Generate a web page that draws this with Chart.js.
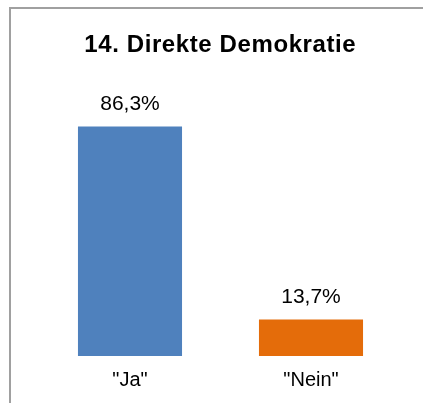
<!DOCTYPE html>
<html>
<head>
<meta charset="utf-8">
<script src="https://cdn.jsdelivr.net/npm/chart.js@4/dist/chart.umd.min.js"></script>
<style>
html,body{margin:0;padding:0;background:#fff;overflow:hidden;}
canvas{display:block;}
</style>
</head>
<body>
<canvas id="c" width="423" height="403"></canvas>
<script>
const titleText = "14. Direkte Demokratie";
const categories = ['"Ja"', '"Nein"'];
const values = [86.3, 13.7];
const barColors = ['#4F81BD', '#E46C0A'];

const FONT = '"Liberation Sans", Arial, sans-serif';

const framePlugin = {
  id: 'frame',
  beforeDraw(chart) {
    const ctx = chart.ctx;
    ctx.save();
    ctx.fillStyle = '#ffffff';
    ctx.fillRect(0, 0, chart.width, chart.height);
    ctx.strokeStyle = '#a0a0a0';
    ctx.lineWidth = 2;
    ctx.beginPath();
    ctx.moveTo(10, chart.height + 2);
    ctx.lineTo(10, 8);
    ctx.lineTo(chart.width + 2, 8);
    ctx.stroke();
    // title
    ctx.fillStyle = '#000';
    ctx.font = 'bold 24px ' + FONT;
    ctx.textAlign = 'center';
    ctx.textBaseline = 'middle';
    if ('letterSpacing' in ctx) {
      ctx.letterSpacing = '0.6px';
      ctx.fillText(titleText, 220 + 0.3, 45);
    } else {
      ctx.fillText(titleText, 220, 45);
    }
    ctx.restore();
  }
};

const valueLabelPlugin = {
  id: 'valueLabels',
  afterDatasetsDraw(chart) {
    const ctx = chart.ctx;
    const meta = chart.getDatasetMeta(0);
    ctx.save();
    ctx.fillStyle = '#000';
    ctx.font = '21px ' + FONT;
    ctx.textAlign = 'center';
    ctx.textBaseline = 'middle';
    meta.data.forEach((bar, i) => {
      const txt = values[i].toFixed(1).replace('.', ',') + '%';
      ctx.fillText(txt, bar.x, bar.y - 22);
    });
    ctx.restore();
  }
};

new Chart(document.getElementById('c'), {
  type: 'bar',
  data: {
    labels: categories,
    datasets: [{
      data: values,
      backgroundColor: barColors,
      borderWidth: 0,
      categoryPercentage: 1,
      barPercentage: 0.575
    }]
  },
  options: {
    responsive: false,
    animation: false,
    layout: { padding: { top: 90, left: 39.5, right: 21.5, bottom: -1 } },
    plugins: { legend: { display: false }, title: { display: false }, tooltip: { enabled: false } },
    scales: {
      y: { display: false, min: 0, max: 100 },
      x: {
        grid: { display: false, drawTicks: false },
        border: { display: false },
        ticks: { color: '#000', font: { family: FONT, size: 20 }, padding: 12 }
      }
    }
  },
  plugins: [framePlugin, valueLabelPlugin]
});
</script>
</body>
</html>
